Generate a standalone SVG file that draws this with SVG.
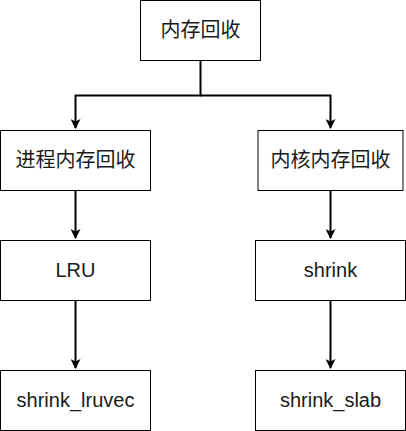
<svg xmlns="http://www.w3.org/2000/svg" width="406" height="431" viewBox="0 0 406 431">
<style>
.box{fill:#fff;stroke:#000;stroke-width:1}
.lbl{font-family:"Liberation Sans","Noto Sans CJK SC",Arial,sans-serif;font-size:20px;fill:#1a1a1a;text-anchor:middle}
.edge{fill:none;stroke:#000;stroke-width:2}
</style>
<defs>
<marker id="arr" markerWidth="10" markerHeight="10" refX="9" refY="5" orient="auto" markerUnits="userSpaceOnUse">
<path d="M0,0 L10,5 L0,10 L2.5,5 Z" fill="#000"/>
</marker>
</defs>
<g id="connectors">
<path class="edge" d="M200.5,60.5 V95.5 H75.5 V128" marker-end="url(#arr)"/>
<path class="edge" d="M200.5,95.5 H330.5 V128" marker-end="url(#arr)"/>
<path class="edge" d="M75.5,190.5 V238" marker-end="url(#arr)"/>
<path class="edge" d="M75.5,300.5 V368" marker-end="url(#arr)"/>
<path class="edge" d="M330.5,190.5 V238" marker-end="url(#arr)"/>
<path class="edge" d="M330.5,300.5 V368" marker-end="url(#arr)"/>
</g>
<g id="n-root"><rect class="box" x="140.5" y="0.5" width="120" height="60"/><text class="lbl" x="200.5" y="37">内存回收</text></g>
<g id="n-proc"><rect class="box" x="0.5" y="130.5" width="150" height="60"/><text class="lbl" x="75.5" y="167">进程内存回收</text></g>
<g id="n-kern"><rect class="box" x="258" y="130.5" width="145" height="60"/><text class="lbl" x="330.5" y="167">内核内存回收</text></g>
<g id="n-lru"><rect class="box" x="0.5" y="240.5" width="150" height="60"/><text class="lbl" x="75.5" y="277">LRU</text></g>
<g id="n-shrink"><rect class="box" x="255.5" y="240.5" width="150" height="60"/><text class="lbl" x="330.5" y="277">shrink</text></g>
<g id="n-lruvec"><rect class="box" x="0.5" y="370.5" width="150" height="60"/><text class="lbl" x="75.5" y="407">shrink_lruvec</text></g>
<g id="n-slab"><rect class="box" x="255.5" y="370.5" width="150" height="60"/><text class="lbl" x="330.5" y="407">shrink_slab</text></g>
</svg>
